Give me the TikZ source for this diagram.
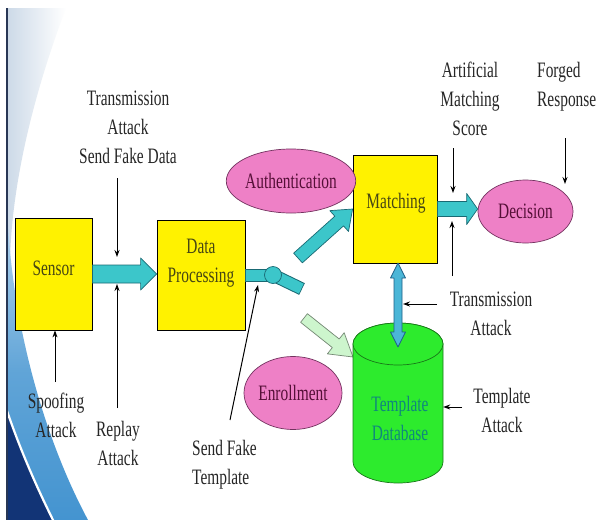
\documentclass[tikz,border=0pt]{standalone}
\usepackage{fontspec}
\setmainfont[FakeStretch=0.7]{Liberation Serif}
\usetikzlibrary{shapes.geometric,calc,arrows.meta}

\definecolor{tealF}{RGB}{60,198,202}
\definecolor{tealD}{RGB}{25,105,115}
\definecolor{pinkF}{RGB}{238,128,198}
\definecolor{pinkD}{RGB}{115,50,95}
\definecolor{pinkT}{RGB}{85,15,55}
\definecolor{oliveT}{RGB}{70,70,20}
\definecolor{cylF}{RGB}{45,235,45}
\definecolor{cylD}{RGB}{25,120,25}
\definecolor{cylT}{RGB}{15,135,125}
\definecolor{skyF}{RGB}{75,182,215}
\definecolor{skyD}{RGB}{30,95,135}
\definecolor{mintF}{RGB}{205,245,205}
\definecolor{mintD}{RGB}{115,135,115}
\definecolor{bgTop}{RGB}{205,218,232}
\definecolor{bandAtop}{RGB}{175,210,238}
\definecolor{bandA}{RGB}{68,148,208}
\definecolor{bandC}{RGB}{18,52,118}
\definecolor{edgeC}{RGB}{40,55,85}

\newcommand{\blockarrow}[6]{%
 \path[#1] let \p1=(#2), \p2=(#3), \n1={atan2(\y2-\y1,\x2-\x1)}, \n2={veclen(\x2-\x1,\y2-\y1)} in
 ($(\p1)+({\n1+90}:#4)$) -- ($(\p1)+(\n1:{\n2-#6})+({\n1+90}:#4)$) -- ($(\p1)+(\n1:{\n2-#6})+({\n1+90}:#5)$) -- (\p2) -- ($(\p1)+(\n1:{\n2-#6})+({\n1-90}:#5)$) -- ($(\p1)+(\n1:{\n2-#6})+({\n1-90}:#4)$) -- ($(\p1)+({\n1-90}:#4)$) -- cycle;}

\tikzset{
 box/.style={draw=black, line width=0.8pt, fill=yellow, inner sep=0pt},
 btext/.style={text=oliveT, align=center, inner sep=0pt},
 pinkell/.style={ellipse, draw=pinkD, line width=0.7pt, fill=pinkF, text=pinkT, inner sep=0pt},
 lbl/.style={align=center, inner sep=0pt, text=black!85},
 lbll/.style={align=left, inner sep=0pt, text=black!85},
 atk/.style={-{Stealth[length=7pt,width=5pt]}, line width=1pt, black},
 tealarrow/.style={fill=tealF, draw=tealD, line width=0.7pt, line join=round},
 mintarrow/.style={fill=mintF, draw=mintD, line width=0.7pt, line join=round},
 skyarrow/.style={fill=skyF, draw=skyD, line width=0.7pt, line join=round},
 cyl/.style={fill=cylF, draw=cylD, line width=0.7pt},
}

\begin{document}
\begin{tikzpicture}[x=1pt, y=1pt, font=\fontsize{22}{29}\selectfont]
\useasboundingbox (0,0) rectangle (598,-520);
\fill[white] (0,0) rectangle (598,-520);

% background swoosh
\shade[left color=bgTop, right color=white] (8,-8) -- (66,-8) .. controls (35,-90) and (12,-180) .. (10,-260) -- (8,-260) -- cycle;
\shade[top color=bandAtop, bottom color=bandA, middle color=bandA!85!white] (8,-225) .. controls (14,-330) and (45,-440) .. (88,-520) -- (8,-520) -- cycle;
\fill[bandC, draw=white, line width=2.2pt] (5,-405) .. controls (20,-450) and (38,-490) .. (55,-524) -- (5,-524) -- cycle;
\draw[edgeC, line width=1.8pt] (7,-8) -- (7,-520);

% main boxes
\node[box, minimum width=77, minimum height=112] (sensor) at (53.5,-274) {};
\node[box, minimum width=88, minimum height=110] (dp) at (201,-275) {};
\node[box, minimum width=84, minimum height=108] (matching) at (395,-209) {};
\node[btext] at (53.5,-268) {Sensor};
\node[btext] at (201,-263) {Data\\Processing};
\node[btext] at (396,-203) {Matching};

% ellipses
\node[pinkell, minimum width=108, minimum height=64] (auth) at (291,-181) {Authentication};
\node[pinkell, minimum width=94, minimum height=73] (enroll) at (293,-393) {Enrollment};
\node[pinkell, minimum width=95, minimum height=63] (decision) at (525.5,-211.5) {Decision};

% template database cylinder
\node[minimum width=90, minimum height=160, inner sep=0pt] (db) at (398,-403) {};
\coordinate (dbin) at (353,-357);
\coordinate (enrtail) at (304,-318);
\blockarrow{mintarrow}{enrtail}{dbin}{5.5}{13.5}{22}
\draw[cyl] (353,-344) -- (353,-462) arc[start angle=180, end angle=360, x radius=45, y radius=21] -- (443,-344) arc[start angle=0, end angle=180, x radius=45, y radius=21] -- cycle;
\draw[cyl] (398,-344) ellipse[x radius=45, y radius=21];
\node[align=center, inner sep=0pt, text=cylT] at (400,-418) {Template\\Database};

% block arrows
\blockarrow{tealarrow}{sensor.east}{sensor.east -| dp.west}{9}{16}{16}
\coordinate (authtail) at (298,-258);
\blockarrow{tealarrow}{authtail}{matching.west}{6.5}{14}{18}
\blockarrow{tealarrow}{matching.east}{matching.east -| decision.west}{7.5}{15.5}{11}

% broken connector from data processing
\coordinate (knobc) at (273,-275);
\coordinate (barend) at (302,-289);
\draw[tealD, line width=13pt] (dp.east) -- (knobc);
\draw[tealF, line width=11pt, shorten <=0.8pt] (dp.east) -- (knobc);
\draw[tealD, line width=13pt] (knobc) -- (barend);
\draw[tealF, line width=11pt, shorten >=0.8pt] (knobc) -- (barend);
\node[circle, draw=tealD, fill=tealF, line width=0.7pt, minimum size=17, inner sep=0pt] (knob) at (knobc) {};

% matching <-> database double arrow
\coordinate (dA) at (398,-263);
\coordinate (dB) at (398,-347);
\draw[skyarrow] (dA) -- ($(dA)+(7.5,-15)$) -- ($(dA)+(4,-15)$) -- ($(dB)+(4,15)$) -- ($(dB)+(7.5,15)$) -- (dB) -- ($(dB)+(-7.5,15)$) -- ($(dB)+(-4,15)$) -- ($(dA)+(-4,-15)$) -- ($(dA)+(-7.5,-15)$) -- cycle;

% attack labels
\node[lbl] (ta1) at (128,-127) {Transmission\\Attack\\Send Fake Data};
\node[lbl] (spoof) at (56,-415) {Spoofing\\Attack};
\node[lbl] (replay) at (118,-443) {Replay\\Attack};
\node[lbll, anchor=west] (sft) at (192,-465) {Send Fake\\Template};
\node[lbl] (ams) at (470,-99) {Artificial\\Matching\\Score};
\node[lbll, anchor=west] (forged) at (537,-86.5) {Forged\\Response};
\node[lbl] (ta2) at (491,-313.5) {Transmission\\Attack};
\node[lbl] (tpa) at (502,-410) {Template\\Attack};

% attack arrows
\coordinate (a1s) at (117,-178); \coordinate (a1e) at (117,-257);
\draw[atk] (a1s) -- (a1e);
\coordinate (a2s) at (117,-408); \coordinate (a2e) at (117,-284);
\draw[atk] (a2s) -- (a2e);
\coordinate (a3s) at (55,-382);
\draw[atk] (a3s) -- (a3s |- sensor.south);
\coordinate (a4s) at (230,-420); \coordinate (a4e) at (258,-285);
\draw[atk] (a4s) -- (a4e);
\coordinate (a5s) at (453,-148); \coordinate (a5e) at (453,-193);
\draw[atk] (a5s) -- (a5e);
\coordinate (a6s) at (452,-276); \coordinate (a6e) at (452,-221);
\draw[atk] (a6s) -- (a6e);
\coordinate (a7s) at (565,-138); \coordinate (a7e) at (565,-184);
\draw[atk] (a7s) -- (a7e);
\coordinate (a8s) at (437,-304); \coordinate (a8e) at (403,-304);
\draw[atk] (a8s) -- (a8e);
\coordinate (a9s) at (462,-407);
\draw[atk] (a9s) -- (a9s -| db.east);
\end{tikzpicture}
\end{document}
